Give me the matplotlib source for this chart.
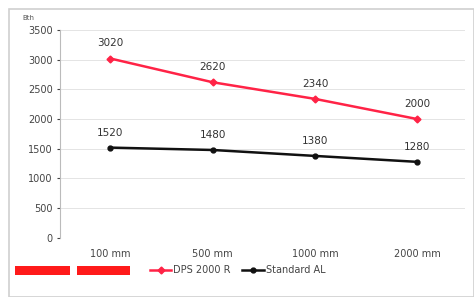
import matplotlib.pyplot as plt
from matplotlib.patches import Rectangle
import numpy as np

categories = ['100 mm', '500 mm', '1000 mm', '2000 mm']
dps_values = [3020, 2620, 2340, 2000]
std_values = [1520, 1480, 1380, 1280]

RED = '#ff2346'
BLACK = '#111111'

fig = plt.figure(figsize=(4.74, 2.97), dpi=100)
ax = fig.add_axes([0.127, 0.199, 0.853, 0.700])

x = np.arange(len(categories))
ax.plot(x, dps_values, color=RED, lw=1.8, marker='D', ms=3.5, label='DPS 2000 R')
ax.plot(x, std_values, color=BLACK, lw=1.8, marker='o', ms=3.5, label='Standard AL')

for xi, v in zip(x, dps_values):
    ax.text(xi, v + 170, str(v), ha='center', va='bottom', fontsize=7.5, color='#333333')
for xi, v in zip(x, std_values):
    ax.text(xi, v + 170, str(v), ha='center', va='bottom', fontsize=7.5, color='#333333')

ax.set_xlim(-0.49, 3.46)
ax.set_ylim(0, 3500)
ax.set_yticks(np.arange(0, 3501, 500))
ax.set_xticks(x)
ax.set_xticklabels(categories)
ax.tick_params(axis='both', labelsize=7, colors='#444444', length=2)
ax.tick_params(axis='x', length=0, pad=8)
ax.grid(axis='y', color='#e4e4e4', lw=0.7)
ax.set_axisbelow(True)
for s in ['top', 'right', 'bottom']:
    ax.spines[s].set_visible(False)
ax.spines['left'].set_color('#bbbbbb')

fig.text(0.047, 0.94, 'Bth', fontsize=5, color='#555555', ha='left', va='center')

leg = ax.legend(loc='upper left', bbox_to_anchor=(0.2, -0.09), ncol=2, frameon=False,
                fontsize=7, handlelength=2.2, handletextpad=0.2, columnspacing=1.2)
for t in leg.get_texts():
    t.set_color('#444444')

# outer frame and red bars at bottom left
fig.patches.append(Rectangle((0.02, 0.0), 0.98, 0.97, transform=fig.transFigure,
                             fill=False, ec='#d0d0d0', lw=1.2))
fig.patches.append(Rectangle((0.032, 0.075), 0.115, 0.028, transform=fig.transFigure,
                             fc='#ff1a1a', ec='none'))
fig.patches.append(Rectangle((0.163, 0.075), 0.112, 0.028, transform=fig.transFigure,
                             fc='#ff1a1a', ec='none'))

fig.savefig('out.png', dpi=100)
